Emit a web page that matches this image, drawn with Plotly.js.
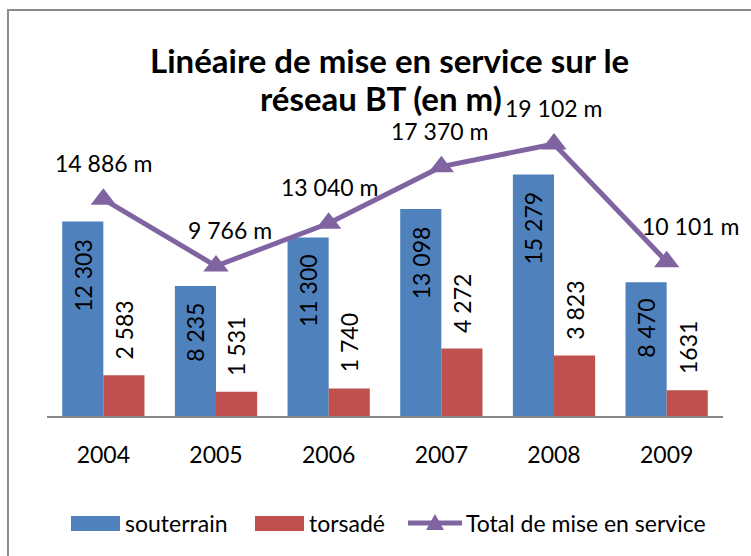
<!DOCTYPE html>
<html>
<head>
<meta charset="utf-8">
<script src="https://cdn.plot.ly/plotly-3.0.1.min.js"></script>
<style>html,body{margin:0;padding:0;background:#fff;}#chart{width:751px;height:556px;}</style>
</head>
<body>
<div id="chart"></div>
<script>
const years = ["2004", "2005", "2006", "2007", "2008", "2009"];
const souterrain = [12303, 8235, 11300, 13098, 15279, 8470];
const torsade = [2583, 1531, 1740, 4272, 3823, 1631];
const total = [14886, 9766, 13040, 17370, 19102, 10101];
const souterrainLabels = ["12 303", "8 235", "11 300", "13 098", "15 279", "8 470"];
const torsadeLabels = ["2 583", "1 531", "1 740", "4 272", "3 823", "1631"];
const totalLabels = ["14 886 m", "9 766 m", "13 040 m", "17 370 m", "19 102 m", "10 101 m"];
const seriesNames = ["souterrain", "torsadé", "Total de mise en service"];

const FONT = "Lato, 'Open Sans', sans-serif";
const BLUE = "#4F81BD", RED = "#C0504D", PURPLE = "#8064A2";
const totalXShift = [0, 14, 1, -2, -1, 24];

const traces = [
  {type: "bar", name: seriesNames[0], x: years, y: souterrain, marker: {color: BLUE}, hoverinfo: "skip"},
  {type: "bar", name: seriesNames[1], x: years, y: torsade, marker: {color: RED}, hoverinfo: "skip"},
  {type: "scatter", mode: "lines+markers", name: seriesNames[2], x: years, y: total, yaxis: "y2",
   line: {color: PURPLE, width: 5}, marker: {symbol: "triangle-up", size: 22, color: PURPLE}, hoverinfo: "skip"}
];

const annotations = [
  {xref: "paper", yref: "paper", x: 0.506, y: 1.1266, xanchor: "center", yanchor: "middle", showarrow: false,
   text: "Linéaire de mise en service sur le", font: {family: FONT, size: 33, color: "#000", weight: "bold"}},
  {xref: "paper", yref: "paper", x: 0.494, y: 1.0063, xanchor: "center", yanchor: "middle", showarrow: false,
   text: "réseau BT (en m)", font: {family: FONT, size: 33, color: "#000", weight: "bold"}}
];
years.forEach((yr, i) => {
  annotations.push({xref: "x", yref: "y", x: i, y: souterrain[i], xshift: -20.6, yshift: -15,
    xanchor: "center", yanchor: "top", textangle: -90, showarrow: false, text: souterrainLabels[i],
    font: {family: FONT, size: 23, color: "#000"}});
  annotations.push({xref: "x", yref: "y", x: i, y: torsade[i], xshift: 20.6, yshift: 14,
    xanchor: "center", yanchor: "bottom", textangle: -90, showarrow: false, text: torsadeLabels[i],
    font: {family: FONT, size: 23, color: "#000"}});
  annotations.push({xref: "x", yref: "y2", x: i, y: total[i], xshift: totalXShift[i], yshift: 36,
    xanchor: "center", yanchor: "middle", showarrow: false, text: totalLabels[i],
    font: {family: FONT, size: 23, color: "#000"}});
});

// custom legend (paper coordinates)
const legY = -0.3386;
const legTextX = [0.1124, 0.3846, 0.6168];
seriesNames.forEach((nm, i) => {
  annotations.push({xref: "paper", yref: "paper", x: legTextX[i], y: legY, xanchor: "left", yanchor: "middle",
    showarrow: false, text: nm, font: {family: FONT, size: 23, color: "#000"}});
});

const layout = {
  width: 751, height: 556,
  margin: {l: 47, r: 28, t: 100, b: 140, pad: 0},
  paper_bgcolor: "#fff", plot_bgcolor: "#fff",
  font: {family: FONT, size: 23, color: "#000"},
  barmode: "group", bargap: 0.27, bargroupgap: 0,
  showlegend: false,
  xaxis: {type: "category", range: [-0.5, 5.5], autorange: false, showgrid: false, zeroline: false, showline: true,
    linecolor: "#868686", linewidth: 2, ticks: "", tickfont: {family: FONT, size: 23, color: "#000"},
    ticklabelstandoff: 17, fixedrange: true},
  yaxis: {range: [0, 20000], autorange: false, visible: false, showgrid: false, zeroline: false, fixedrange: true},
  yaxis2: {range: [-1706, 22471], autorange: false, overlaying: "y", side: "right", visible: false, showgrid: false, zeroline: false, fixedrange: true},
  annotations: annotations,
  shapes: [
    {type: "rect", xref: "paper", yref: "paper", x0: -0.0577, x1: 1.2, y0: -1, y1: 1.2848,
     line: {color: "#8c8c8c", width: 2}, fillcolor: "rgba(0,0,0,0)", layer: "below"},
    {type: "rect", xref: "paper", yref: "paper", x0: 0.0355, x1: 0.1080, y0: -0.3165, y1: -0.3639,
     line: {width: 0}, fillcolor: BLUE},
    {type: "rect", xref: "paper", yref: "paper", x0: 0.3077, x1: 0.3802, y0: -0.3165, y1: -0.3639,
     line: {width: 0}, fillcolor: RED},
    {type: "line", xref: "paper", yref: "paper", x0: 0.5340, x1: 0.6139, y0: legY, y1: legY,
     line: {color: PURPLE, width: 5}},
    {type: "path", xref: "paper", yref: "paper", xsizemode: "pixel", ysizemode: "pixel",
     xanchor: 0.5740, yanchor: legY, path: "M-9,-7 L9,-7 L0,9 Z",
     line: {width: 0}, fillcolor: PURPLE}
  ]
};

Plotly.newPlot("chart", traces, layout, {displayModeBar: false, staticPlot: true});
</script>
</body>
</html>
